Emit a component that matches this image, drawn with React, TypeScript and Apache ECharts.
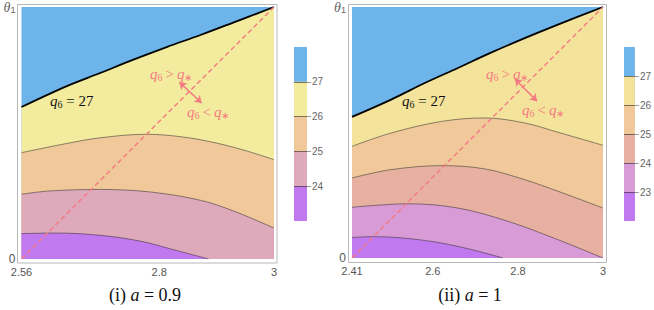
import React, { useEffect, useRef } from 'react';
import * as echarts from 'echarts';

// ---------- Panel (i): a = 0.9 ----------
const xRangeI = [2.56, 3];
const xTicksI = [2.56, 2.8, 3];
const q27Ix = [2.56, 2.638, 2.697, 2.755, 2.813, 2.872, 2.93, 3];
const q27Iy = [0.603, 0.685, 0.738, 0.791, 0.841, 0.889, 0.939, 1];
const q26Ix = [2.56, 2.638, 2.697, 2.778, 2.842, 2.9, 2.958, 3];
const q26Iy = [0.422, 0.458, 0.481, 0.495, 0.484, 0.46, 0.425, 0.394];
const q25Ix = [2.56, 2.609, 2.697, 2.784, 2.872, 2.93, 3];
const q25Iy = [0.257, 0.27, 0.276, 0.266, 0.233, 0.19, 0.123];
const q24Ix = [2.56, 2.621, 2.697, 2.767, 2.825, 2.886];
const q24Iy = [0.101, 0.103, 0.094, 0.071, 0.037, 0];
const levelsI = [23, 24, 25, 26, 27, 28];
const colorsI = ['#c079ee', '#dfa9bc', '#f0c899', '#f3ec9f', '#6cb4e9'];
const arrowI = [[2.835, 0.702], [2.874, 0.619]];

// ---------- Panel (ii): a = 1 ----------
const xRangeII = [2.41, 3];
const xTicksII = [2.41, 2.6, 2.8, 3];
const q27IIx = [2.41, 2.502, 2.581, 2.659, 2.738, 2.816, 2.894, 3];
const q27IIy = [0.562, 0.631, 0.697, 0.757, 0.819, 0.876, 0.93, 1];
const q26IIx = [2.41, 2.502, 2.62, 2.722, 2.816, 2.894, 3];
const q26IIy = [0.445, 0.498, 0.544, 0.558, 0.538, 0.501, 0.449];
const q25IIx = [2.41, 2.502, 2.62, 2.722, 2.816, 2.894, 3];
const q25IIy = [0.319, 0.352, 0.368, 0.355, 0.312, 0.266, 0.199];
const q24IIx = [2.41, 2.542, 2.659, 2.777, 2.894, 3];
const q24IIy = [0.202, 0.216, 0.199, 0.146, 0.073, 0];
const q23IIx = [2.41, 2.463, 2.581, 2.675, 2.765];
const q23IIy = [0.082, 0.085, 0.07, 0.04, 0];
const levelsII = [22, 23, 24, 25, 26, 27, 28];
const colorsII = ['#c079ee', '#d89bd6', '#e7b0a0', '#f0c899', '#f4e49b', '#6cb4e9'];
const arrowII = [[2.793, 0.713], [2.845, 0.625]];

const yTicks = [0, 1];

const zip = (xs: number[], ys: number[]) => xs.map((x, i) => [x, ys[i]]);

const CONTOUR = 'rgba(50,50,50,0.55)';
const PINK = '#f47a82';
const SERIF = 'Liberation Serif';
const SANS = 'Liberation Sans';

function contour(xs: number[], ys: number[], fill: string, axis: number, black = false) {
  return {
    type: 'line',
    xAxisIndex: axis,
    yAxisIndex: axis,
    data: zip(xs, ys),
    smooth: 0.35,
    symbol: 'none',
    silent: true,
    lineStyle: { color: black ? '#000' : CONTOUR, width: black ? 1.8 : 1 },
    areaStyle: { color: fill, opacity: 1, origin: 'start' },
  };
}

function diag(range: number[], axis: number, arrow: number[][]) {
  return {
    type: 'line',
    xAxisIndex: axis,
    yAxisIndex: axis,
    data: [[range[0], 0], [range[1], 1]],
    symbol: 'none',
    silent: true,
    lineStyle: { color: PINK, width: 1.4, type: [5, 3] },
    markLine: {
      silent: true,
      symbol: ['arrow', 'arrow'],
      symbolSize: 7,
      label: { show: false },
      lineStyle: { color: PINK, width: 1.5, type: 'solid' },
      data: [[{ coord: arrow[0] }, { coord: arrow[1] }]],
    },
  };
}

function colorbar(levels: number[], colors: string[], axis: number) {
  const out: any[] = [];
  for (let i = colors.length - 1; i >= 0; i--) {
    out.push({
      type: 'bar',
      xAxisIndex: axis,
      yAxisIndex: axis,
      data: [levels[i + 1]],
      barWidth: '100%',
      barGap: '-100%',
      silent: true,
      itemStyle: { color: colors[i] },
    });
  }
  return out;
}

const axisLabelColor = '#555';

function mainX(range: number[], ticks: number[], grid: number) {
  return {
    type: 'value',
    gridIndex: grid,
    min: range[0],
    max: range[1],
    axisLine: { show: false },
    splitLine: { show: false },
    axisTick: { show: false },
    axisLabel: {
      customValues: ticks,
      formatter: (v: number) => String(+v.toFixed(2)),
      color: axisLabelColor,
      fontSize: 11,
      fontFamily: SANS,
      margin: 7,
    },
  };
}

function mainY(grid: number) {
  return {
    type: 'value',
    gridIndex: grid,
    min: 0,
    max: 1,
    axisLine: { show: false },
    splitLine: { show: false },
    axisTick: { show: false },
    axisLabel: {
      customValues: yTicks,
      formatter: (v: number) => (v === 1 ? '{t|θ}{s|1}' : '{z|0}'),
      margin: 6,
      rich: {
        t: { fontFamily: SERIF, fontStyle: 'italic', fontSize: 14, color: '#666', verticalAlign: 'middle' },
        s: { fontSize: 9, fontFamily: SANS, color: '#666', padding: [6, 0, 0, 0], verticalAlign: 'middle' },
        z: { fontSize: 12, color: '#555', fontFamily: SANS, verticalAlign: 'middle' },
      },
    },
  };
}

function cbX(grid: number) {
  return { type: 'category', gridIndex: grid, data: ['c'], show: false };
}

function cbY(levels: number[], grid: number) {
  return {
    type: 'value',
    gridIndex: grid,
    min: levels[0],
    max: levels[levels.length - 1],
    interval: 1,
    position: 'right',
    z: 5,
    axisLine: { show: false },
    axisTick: { show: true, length: 4, lineStyle: { color: '#999' } },
    splitLine: { show: true, showMinLine: false, showMaxLine: false, lineStyle: { color: 'rgba(40,40,40,0.6)', width: 1 } },
    axisLabel: {
      showMinLabel: false,
      showMaxLabel: false,
      color: '#666',
      fontSize: 10,
      fontFamily: SANS,
      margin: 5,
    },
  };
}

const qRich = (color: string) => ({
  i: { fontFamily: SERIF, fontStyle: 'italic', fontSize: 15, fill: color, verticalAlign: 'middle' },
  s: { fontFamily: SERIF, fontSize: 10, fill: color, padding: [7, 0, 0, 0], verticalAlign: 'middle' },
  n: { fontFamily: SERIF, fontSize: 15, fill: color, verticalAlign: 'middle' },
});

function label(x: number, y: number, text: string, color: string) {
  return {
    type: 'text',
    x,
    y,
    z: 50,
    silent: true,
    style: { text, rich: qRich(color), verticalAlign: 'middle', align: 'left' },
  };
}

function caption(cx: number, y: number, roman: string, value: string) {
  const base = { fontFamily: SERIF, fontSize: 18, fill: '#111', verticalAlign: 'middle' };
  return {
    type: 'text',
    x: cx,
    y,
    silent: true,
    style: {
      text: `{r|(${roman}) }{i|a}{r| = ${value}}`,
      align: 'center',
      verticalAlign: 'middle',
      rich: { r: base, i: { ...base, fontStyle: 'italic' } },
    },
  };
}

function frame(x: number, y: number, w: number, h: number) {
  return {
    type: 'rect',
    silent: true,
    z: 40,
    shape: { x, y, width: w, height: h },
    style: { fill: 'none', stroke: '#b8b8b8', lineWidth: 1 },
  };
}

const GT = '{i|q}{s|6}{n|\u2009>\u2009}{i|q}{s|∗}';
const LT = '{i|q}{s|6}{n|\u2009<\u2009}{i|q}{s|∗}';
const EQ = '{i|q}{s|6}{n| = 27}';

export default function App() {
  const ref = useRef<HTMLDivElement>(null);
  useEffect(() => {
    if (!ref.current) return;
    const chart = echarts.init(ref.current, null, { renderer: 'svg' });
    const option: any = {
      animation: false,
      backgroundColor: '#fff',
      grid: [
        { left: 21.5, top: 7, width: 252.5, height: 252, show: true, backgroundColor: colorsI[4], borderWidth: 0 },
        { left: 294, top: 47, width: 13, height: 174 },
        { left: 352, top: 7, width: 251, height: 251, show: true, backgroundColor: colorsII[5], borderWidth: 0 },
        { left: 624, top: 47, width: 13, height: 174 },
      ],
      xAxis: [mainX(xRangeI, xTicksI, 0), cbX(1), mainX(xRangeII, xTicksII, 2), cbX(3)],
      yAxis: [mainY(0), cbY(levelsI, 1), mainY(2), cbY(levelsII, 3)],
      series: [
        contour(q27Ix, q27Iy, colorsI[3], 0, true),
        contour(q26Ix, q26Iy, colorsI[2], 0),
        contour(q25Ix, q25Iy, colorsI[1], 0),
        contour(q24Ix, q24Iy, colorsI[0], 0),
        diag(xRangeI, 0, arrowI),
        ...colorbar(levelsI, colorsI, 1),
        contour(q27IIx, q27IIy, colorsII[4], 2, true),
        contour(q26IIx, q26IIy, colorsII[3], 2),
        contour(q25IIx, q25IIy, colorsII[2], 2),
        contour(q24IIx, q24IIy, colorsII[1], 2),
        contour(q23IIx, q23IIy, colorsII[0], 2),
        diag(xRangeII, 2, arrowII),
        ...colorbar(levelsII, colorsII, 3),
      ],
      graphic: [
        frame(17.5, 4.5, 259.5, 258.5),
        frame(348.5, 4.5, 258, 258),
        label(50, 101, EQ, '#111'),
        label(150, 74, GT, PINK),
        label(187, 112, LT, PINK),
        label(402, 101, EQ, '#111'),
        label(486, 74, GT, PINK),
        label(522, 110, LT, PINK),
        caption(145, 295, 'i', '0.9'),
        caption(470, 295, 'ii', '1'),
      ],
    };
    chart.setOption(option);
    return () => chart.dispose();
  }, []);
  return (
    <div
      ref={ref}
      style={{ position: 'fixed', left: 0, top: 0, width: 654, height: 310 }}
    />
  );
}
